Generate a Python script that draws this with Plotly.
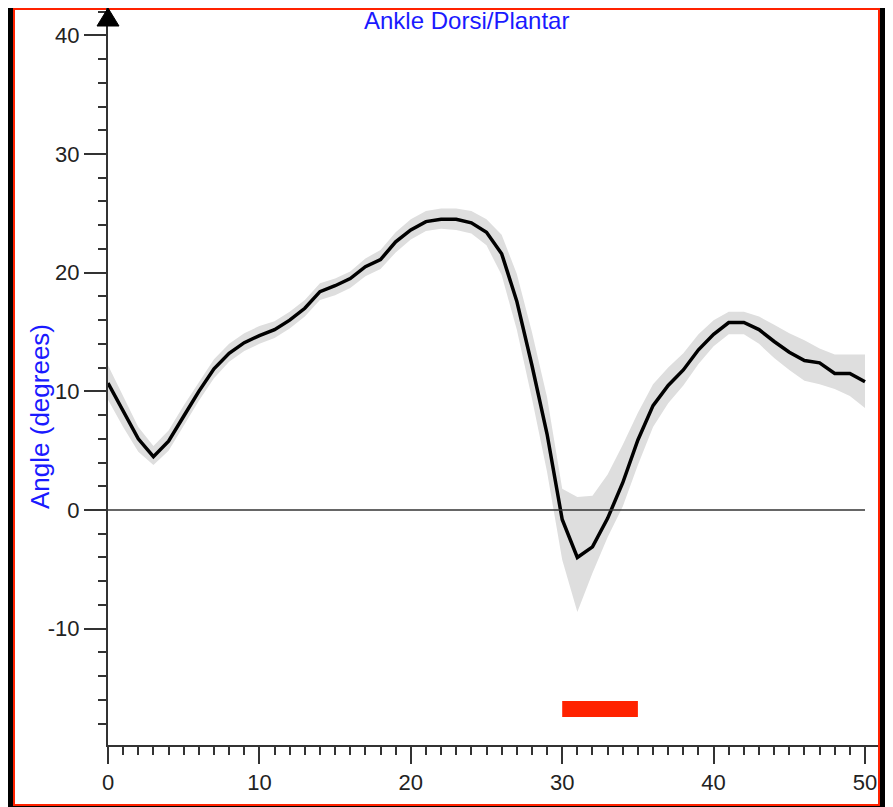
import plotly.graph_objects as go

# gait cycle samples and ankle angle (degrees)
cycle_pct = list(range(51))
angle_mean = [
    10.7, 8.3, 6.0, 4.5, 5.8, 7.9, 10.0, 11.9, 13.2, 14.1,
    14.7, 15.2, 16.0, 17.0, 18.4, 18.9, 19.5, 20.5, 21.1, 22.6,
    23.6, 24.3, 24.5, 24.5, 24.2, 23.4, 21.6, 17.6, 12.2, 6.4,
    -0.8, -4.0, -3.1, -0.7, 2.3, 5.9, 8.8, 10.5, 11.8, 13.5,
    14.8, 15.8, 15.8, 15.2, 14.2, 13.3, 12.6, 12.4, 11.5, 11.5,
    10.8,
]
angle_lower = [
    9.3, 7.0, 4.9, 3.8, 5.0, 7.1, 9.2, 11.1, 12.5, 13.4,
    14.0, 14.5, 15.3, 16.3, 17.7, 18.1, 18.7, 19.7, 20.3, 21.7,
    22.8, 23.5, 23.7, 23.6, 23.3, 22.3, 19.8, 15.2, 9.4, 3.2,
    -4.2, -8.6, -5.3, -2.3, 0.3, 3.8, 7.0, 9.0, 10.5, 12.3,
    13.8, 14.8, 14.8, 14.0, 12.8, 11.8, 10.9, 10.6, 10.2, 9.6,
    8.6,
]
angle_upper = [
    12.2, 9.6, 7.0, 5.4, 6.7, 8.8, 10.8, 12.7, 14.0, 14.9,
    15.5, 15.9, 16.7, 17.7, 19.1, 19.5, 20.1, 21.2, 21.9, 23.4,
    24.5, 25.2, 25.4, 25.4, 25.2, 24.5, 23.2, 19.9, 15.0, 9.5,
    1.8, 1.1, 1.2, 3.0, 5.5, 8.2, 10.6, 12.0, 13.2, 14.8,
    16.0, 16.7, 16.7, 16.3, 15.6, 14.9, 14.3, 13.6, 13.1, 13.1,
    13.1,
]
event_start, event_end = 30, 35
event_level = [-16.1, -17.45]

y_major = [-10, 0, 10, 20, 30, 40]
y_labels = ["-10", "0", "10", "20", "30", "40"]
x_major = [0, 10, 20, 30, 40, 50]

# the page body adds an 8px margin, so the figure is laid out 8px up/left
OFF = 8
W, H = 893 - OFF, 807 - OFF
L, R, T, B = 108 - OFF, 878 - OFF, 8 - OFF, 745 - OFF


def px(x):
    # page pixel -> paper x
    return (x - OFF - L) / (R - L)


def py(y):
    # page pixel -> paper y
    return (B - (y - OFF)) / (B - T)


AXIS = "#333333"
BLUE = "#1a1aff"
fig = go.Figure()

fig.add_trace(go.Scatter(
    x=cycle_pct + cycle_pct[::-1], y=angle_upper + angle_lower[::-1],
    fill="toself", fillcolor="#dedede", line=dict(width=0),
    mode="lines", hoverinfo="skip", showlegend=False,
))
fig.add_trace(go.Scatter(
    x=cycle_pct, y=angle_mean, mode="lines",
    line=dict(color="black", width=3.5), showlegend=False,
))

shapes = [
    # white panel with red border
    dict(type="rect", xref="paper", yref="paper",
         x0=px(14), x1=px(879), y0=py(805), y1=py(OFF + 1),
         fillcolor="white", line=dict(color="#ff2200", width=2), layer="below"),
    # zero line
    dict(type="line", xref="x", yref="y", x0=cycle_pct[0], x1=cycle_pct[-1], y0=0, y1=0,
         line=dict(color=AXIS, width=1.5)),
    # event bar
    dict(type="rect", xref="x", yref="y", x0=event_start, x1=event_end,
         y0=event_level[0], y1=event_level[1], fillcolor="#ff2200", line=dict(width=0)),
    # arrow head on y axis
    dict(type="path", xref="paper", yref="paper",
         path=f"M {px(97)} {py(26)} L {px(108)} {py(OFF)} L {px(119)} {py(26)} Z",
         fillcolor="black", line=dict(color="black", width=1)),
]

fig.update_layout(
    width=W, height=H,
    margin=dict(l=L, r=W - R, t=T, b=H - B, autoexpand=False),
    paper_bgcolor="black", plot_bgcolor="rgba(0,0,0,0)",
    shapes=shapes,
    font=dict(family="Liberation Sans, Arial, sans-serif", color="#222222", size=22),
    annotations=[
        dict(text="Ankle Dorsi/Plantar", xref="paper", yref="paper",
             x=px(466), y=py(20), showarrow=False, xanchor="center", yanchor="middle",
             font=dict(color=BLUE, size=24)),
        dict(text="Angle (degrees)", xref="paper", yref="paper",
             x=px(40), y=py(417), textangle=-90, showarrow=False,
             xanchor="center", yanchor="middle",
             font=dict(color=BLUE, size=26)),
    ],
    xaxis=dict(range=[0, (R - L) / 15.14], tickvals=x_major, ticks="outside", ticklen=17,
               tickwidth=2, tickcolor=AXIS, showline=True, linecolor=AXIS, linewidth=2,
               showgrid=False, zeroline=False,
               minor=dict(dtick=1, ticks="outside", ticklen=8, tickwidth=2, tickcolor=AXIS)),
    yaxis=dict(range=[-19.8, 42.3], tickvals=y_major, ticktext=y_labels, ticks="outside",
               ticklen=22, tickwidth=2, tickcolor=AXIS, showline=True, linecolor=AXIS,
               linewidth=2, showgrid=False, zeroline=False,
               minor=dict(dtick=2, ticks="outside", ticklen=8, tickwidth=2, tickcolor=AXIS)),
)

fig.write_html("out.html")
